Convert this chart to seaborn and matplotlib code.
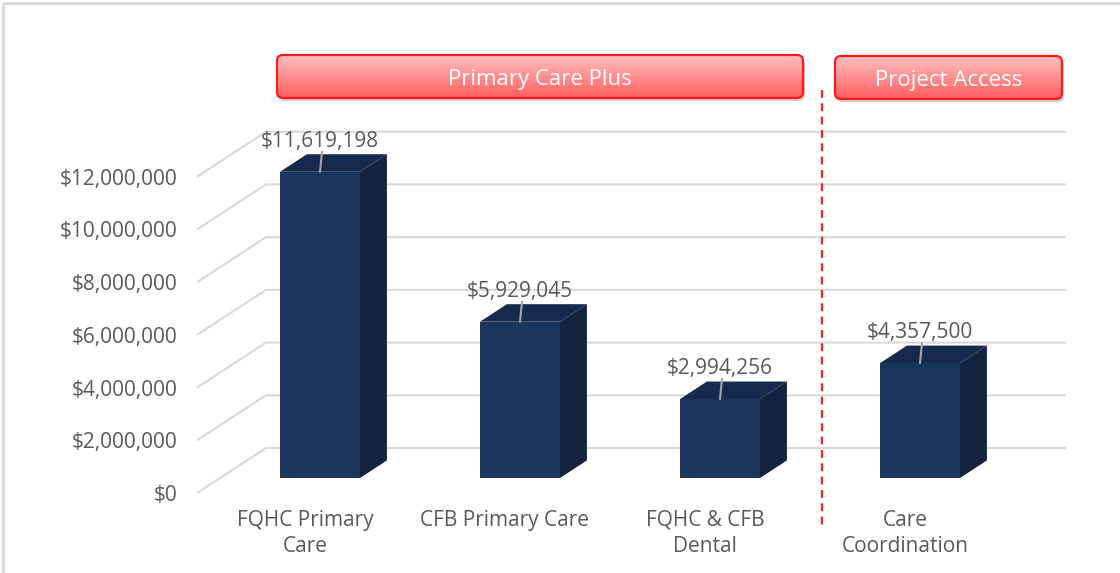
import numpy as np
import pandas as pd
import matplotlib
matplotlib.use("Agg")
import matplotlib.pyplot as plt
import seaborn as sns
from matplotlib.patches import Polygon, FancyBboxPatch
from matplotlib.colors import LinearSegmentedColormap

# Data
categories = ["FQHC Primary\nCare", "CFB Primary Care", "FQHC & CFB\nDental", "Care\nCoordination"]
amounts = [11619198, 5929045, 2994256, 4357500]
y_ticks = [0, 2000000, 4000000, 6000000, 8000000, 10000000, 12000000]
groups = ["Primary Care Plus", "Project Access"]

front_c, top_c, side_c = "#1b365d", "#152a4c", "#13233e"
grid_c = "#d9d9d9"
text_c = "#595959"
fs = 15

sns.set_theme(style="white")
plt.rcParams["font.family"] = ["Open Sans", "DejaVu Sans"]

W, H = 1120, 573
fig = plt.figure(figsize=(W / 100, H / 100), dpi=100)
ax = fig.add_axes([183 / W, (H - 500) / H, 892 / W, 460 / H])

df = pd.DataFrame({"Program": categories, "Amount": amounts})
sns.barplot(data=df, x="Program", y="Amount", color=front_c, width=0.4,
            saturation=1, linewidth=0, ax=ax, zorder=3)

ax.set_xlim(-0.685, 3.775)
ax.set_ylim(-0.835e6, 16.62e6)

# fake 3d depth (full wall depth) and bar depth
DX, DY = 0.345, 1.708e6
bx, by = 0.39 * DX, 0.39 * DY

# side wall + back wall gridlines
for v in y_ticks:
    xf, yf = -0.5 - DX / 3, v - DY / 3
    xb, yb = -0.5 + 2 * DX / 3, v + 2 * DY / 3
    ax.plot([xf, xb, 3.5 + 2 * DX / 3], [yf, yb, yb], color=grid_c, lw=1.5, zorder=1,
            solid_capstyle="butt")

# top and side faces + data labels
for p, v in zip(ax.patches, amounts):
    x0, w, h = p.get_x(), p.get_width(), p.get_height()
    ax.add_patch(Polygon([(x0, h), (x0 + w, h), (x0 + w + bx, h + by), (x0 + bx, h + by)],
                         closed=True, fc=top_c, ec="none", zorder=3))
    ax.add_patch(Polygon([(x0 + w, 0), (x0 + w + bx, by), (x0 + w + bx, h + by), (x0 + w, h)],
                         closed=True, fc=side_c, ec="none", zorder=3))
    cx = x0 + w / 2
    ax.plot([cx, cx + 0.01], [h, h + by + 0.1e6], color="#a6a6a6", lw=1.5, zorder=4)
    ax.text(cx, h + by + 0.28e6, f"${v:,.0f}", ha="center", va="baseline",
            fontsize=fs, color=text_c, zorder=5)

ax.set_yticks([v - DY / 3 for v in y_ticks])
ax.set_yticklabels([f"${v:,.0f}" for v in y_ticks])
ax.set_xticks(np.arange(len(categories)) - 0.075)
ax.set_xticklabels(categories, linespacing=1.3)
ax.tick_params(axis="y", length=0, pad=4, labelsize=fs, labelcolor=text_c)
ax.tick_params(axis="x", length=0, pad=7, labelsize=fs, labelcolor=text_c)
ax.set_xlabel("")
ax.set_ylabel("")
for s in ax.spines.values():
    s.set_visible(False)

# overlay in pixel coords for group boxes, divider, frame
ov = fig.add_axes([0, 0, 1, 1], zorder=10)
ov.patch.set_alpha(0)
cmap = LinearSegmentedColormap.from_list("redgrad", ["#ffc0c0", "#ff5e5e"])


def group_box(x0, y0, x1, y1, label):
    shadow = FancyBboxPatch((x0 + 2, y0 + 3), x1 - x0, y1 - y0,
                            boxstyle="round,pad=0,rounding_size=6",
                            fc="black", alpha=0.18, ec="none", zorder=1)
    ov.add_patch(shadow)
    box = FancyBboxPatch((x0, y0), x1 - x0, y1 - y0, boxstyle="round,pad=0,rounding_size=6",
                         fc="none", ec="#ff1a1a", lw=1.6, zorder=3)
    ov.add_patch(box)
    grad = np.linspace(0, 1, 100).reshape(-1, 1)
    im = ov.imshow(grad, extent=[x0, x1, y1, y0], cmap=cmap, aspect="auto", zorder=2)
    im.set_clip_path(box)
    ov.text((x0 + x1) / 2, (y0 + y1) / 2 + 3, label, ha="center", va="center",
            color="white", fontsize=16, zorder=4)


group_box(277, 55, 803, 98, groups[0])
group_box(835, 56, 1062, 99, groups[1])
ov.plot([822, 822], [90, 525], color="#ff2020", lw=1.6, ls=(0, (3.5, 2.5)), zorder=2)
ov.plot([3, 3, W], [H, 3, 3], color=grid_c, lw=2, zorder=2)
ov.set_xlim(0, W)
ov.set_ylim(H, 0)
ov.axis("off")

fig.savefig("out.png", dpi=100)
